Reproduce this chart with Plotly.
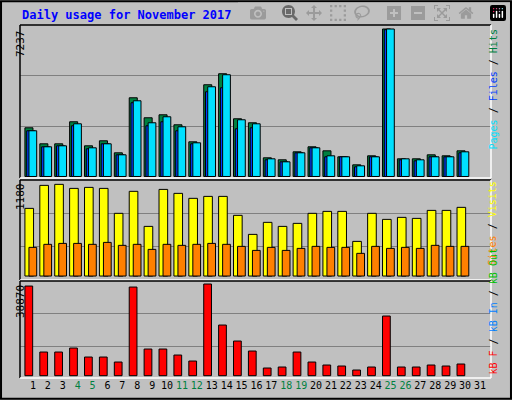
import plotly.graph_objects as go

days = list(range(1, 32))
hits = [2390, 1604, 1604, 2685, 1506, 1752, 1162, 3863, 2881, 3028, 2537, 1702, 4502, 5042, 2832,
        2636, 917, 819, 1211, 1457, 1260, 966, 573, 1015, 7237, 868, 868, 1064, 1015, 1260]
files = [2243, 1457, 1506, 2488, 1359, 1604, 1064, 3618, 2488, 2685, 2243, 1604, 4158, 4354, 2341,
         2390, 819, 720, 1162, 1408, 966, 966, 475, 966, 7203, 819, 769, 966, 966, 1162]
pages = [2243, 1457, 1506, 2586, 1408, 1604, 1064, 3716, 2636, 2930, 2439, 1653, 4404, 4993, 2783,
         2586, 868, 720, 1162, 1408, 1015, 966, 524, 966, 7237, 868, 819, 966, 966, 1211]
visits = [871, 1167, 1180, 1128, 1141, 1128, 807, 1090, 639, 1115, 1064, 1000, 1025, 1025, 781,
          536, 691, 639, 678, 807, 832, 832, 446, 807, 729, 755, 742, 845, 845, 884]
sites = [369, 408, 420, 420, 408, 433, 395, 408, 343, 408, 395, 408, 420, 408, 382,
         330, 369, 330, 356, 382, 369, 369, 292, 382, 356, 369, 356, 395, 382, 382]
kbytes = [38010, 10032, 10032, 11728, 7913, 7913, 5793, 37586, 11304, 11304, 8761, 6217, 38870, 21478, 14695,
          10456, 3250, 3674, 10032, 5793, 4522, 4098, 2402, 3674, 25293, 3674, 3674, 4522, 4098, 4946]
weekends = [4, 5, 11, 12, 18, 19, 25, 26]

x = days[:30]
fig = go.Figure()
def bar(y, color, off, w, ax):
    fig.add_trace(go.Bar(x=x, y=y, marker=dict(color=color, line=dict(color="black", width=1)),
                         offset=off, width=w, xaxis="x" + ax, yaxis="y" + ax, showlegend=False))

bar(hits, "#008040", -0.54, 0.54, "")
bar(files, "#0040FF", -0.42, 0.54, "")
bar(pages, "#00E0FF", -0.27, 0.52, "")
bar(visits, "#FFFF00", -0.54, 0.58, "2")
bar(sites, "#FF8000", -0.27, 0.52, "2")
bar(kbytes, "#FF0000", -0.54, 0.52, "3")

xr = [0.13, 31.74]
xd = [20 / 512, 491 / 512]
ticktext = [f'<span style="color:{"#008040" if d in weekends else "black"}">{d}</span>' for d in days]
ya = dict(showticklabels=False, showline=False, zeroline=False, gridcolor="#808080", gridwidth=1)
fig.update_layout(
    width=512, height=400, margin=dict(l=0, r=0, t=0, b=0),
    paper_bgcolor="#C0C0C0", plot_bgcolor="#C0C0C0", barmode="overlay",
    font=dict(family="DejaVu Sans Mono", size=11, color="black"),
    xaxis=dict(domain=xd, range=xr, showticklabels=False, showgrid=False, zeroline=False),
    xaxis2=dict(domain=xd, range=xr, showticklabels=False, showgrid=False, zeroline=False, anchor="y2"),
    xaxis3=dict(domain=xd, range=xr, showgrid=False, zeroline=False, anchor="y3",
                tickvals=days, ticktext=ticktext, ticks="", tickangle=0, tickfont=dict(size=10)),
    yaxis=dict(domain=[1 - 178 / 400, 1 - 25 / 400], range=[-74, 7434], tickvals=[2437, 4948], **ya),
    yaxis2=dict(domain=[1 - 280 / 400, 1 - 180 / 400], range=[-51, 1236], tickvals=[382, 807], **ya),
    yaxis3=dict(domain=[1 - 378 / 400, 1 - 281 / 400], range=[-975, 40150], tickvals=[12434, 26565], **ya),
)

shapes = [dict(type="rect", xref="paper", yref="paper", x0=0.002, x1=0.998, y0=0.003, y1=0.997,
               line=dict(color="black", width=2))]
for y0, y1 in [(178, 25), (280, 180), (378, 281)]:
    a, b = 1 - y0 / 400, 1 - y1 / 400
    shapes.append(dict(type="line", xref="paper", yref="paper", x0=xd[0], x1=xd[0], y0=a, y1=b,
                       line=dict(color="black", width=1.5)))
    shapes.append(dict(type="line", xref="paper", yref="paper", x0=xd[0], x1=xd[1], y0=b, y1=b,
                       line=dict(color="black", width=1.5)))
    shapes.append(dict(type="line", xref="paper", yref="paper", x0=xd[1], x1=xd[1], y0=a, y1=b,
                       line=dict(color="white", width=1.5)))
    shapes.append(dict(type="line", xref="paper", yref="paper", x0=xd[0], x1=xd[1], y0=a, y1=a,
                       line=dict(color="white", width=1.5)))
fig.update_layout(shapes=shapes)

ann = [
    dict(text="<b>Daily usage for November 2017</b>", x=20 / 512, y=1 - 15 / 400, xanchor="left",
         yanchor="middle", font=dict(color="#0000FF", size=12)),
    dict(text="7237", x=12 / 512, y=1 - 28 / 400, textangle=-90, yanchor="top"),
    dict(text="1180", x=12 / 512, y=1 - 181 / 400, textangle=-90, yanchor="top"),
    dict(text="38870", x=12 / 512, y=1 - 283 / 400, textangle=-90, yanchor="top"),
    dict(text='<span style="color:#00E0FF">Pages</span> / <span style="color:#0040FF">Files</span> / '
              '<span style="color:#008040">Hits</span>', x=500 / 512, y=1 - 28 / 400, textangle=-90,
         yanchor="top", font=dict(size=10)),
    dict(text='<span style="color:#FF8000">Sites</span> / <span style="color:#FFFF00">Visits</span>',
         x=500 / 512, y=1 - 180 / 400, textangle=-90, yanchor="top", font=dict(size=10)),
    dict(text='<span style="color:#FF0000">kB F</span> / <span style="color:#0080FF">kB In</span> / '
              '<span style="color:#00C000">kB Out</span>', x=500 / 512, y=1 - 377 / 400, textangle=-90,
         yanchor="bottom", font=dict(size=10)),
]
for a in ann:
    a.update(xref="paper", yref="paper", showarrow=False)
fig.update_layout(annotations=ann)

fig.write_html("out.html", post_script="document.body.style.margin='0';")
